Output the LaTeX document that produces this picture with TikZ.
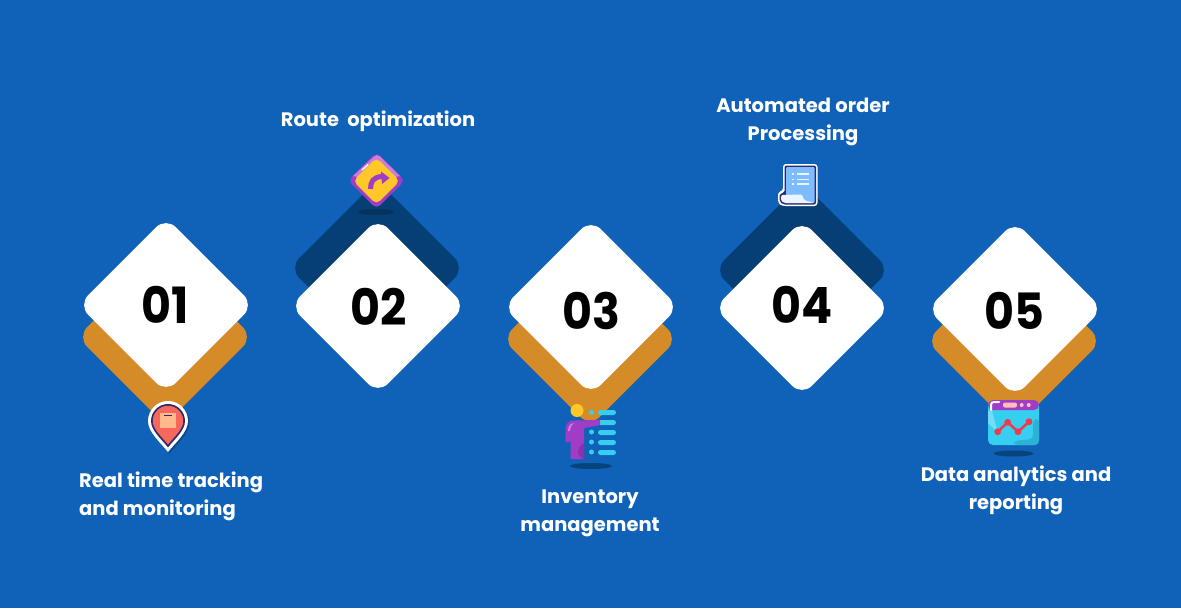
\documentclass[tikz,border=0pt]{standalone}
\usepackage{fontspec}
\setmainfont{Poppins}
\definecolor{bgblue}{HTML}{0F62B7}
\definecolor{ochre}{HTML}{D58C28}
\definecolor{deepblue}{HTML}{063F75}
\definecolor{iconpurple}{HTML}{A03CC6}
\definecolor{iconlilac}{HTML}{C77FDC}
\definecolor{iconyellow}{HTML}{FFC727}
\definecolor{iconcyan}{HTML}{36CFF0}
\definecolor{iconcyandark}{HTML}{2BB2D4}
\definecolor{iconred}{HTML}{F2384E}
\definecolor{pinred}{HTML}{F7675B}
\definecolor{pinbox}{HTML}{FFB98A}
\definecolor{navy}{HTML}{2B2A6B}
\definecolor{paperblue}{HTML}{7DBDFF}
\tikzset{
  x=1pt,y=-1pt,
  diamondbase/.style={rectangle,rotate=45,rounded corners=14pt,minimum size=124pt,inner sep=0pt,draw=none},
  whitediamond/.style={diamondbase,fill=white},
  ochrediamond/.style={diamondbase,fill=ochre},
  deepdiamond/.style={diamondbase,fill=deepblue},
  numeral/.style={font=\fontsize{50}{50}\selectfont\bfseries,text=black,inner sep=0pt,xscale=.92},
  caption/.style={font=\fontsize{19.5}{28}\selectfont\bfseries,text=white,inner sep=0pt,align=center},
  bar/.style={fill=iconcyan,draw=none,rounded corners=2.5pt},
}
\newcommand{\pinshape}{(0,-20) .. controls (11,-20) and (20,-11) .. (20,0) .. controls (20,11) and (8,21) .. (0,31) .. controls (-8,21) and (-20,11) .. (-20,0) .. controls (-20,-11) and (-11,-20) .. (0,-20) -- cycle}
\begin{document}
\begin{tikzpicture}
\useasboundingbox[fill=bgblue] (0,0) rectangle (1181,608);
% back diamonds
\node[ochrediamond] (b1) at (165,337) {};
\node[deepdiamond]  (b2) at (377,268) {};
\node[ochrediamond] (b3) at (590,339) {};
\node[deepdiamond]  (b4) at (802,270) {};
\node[ochrediamond] (b5) at (1014,341) {};
% front diamonds
\node[whitediamond] (d1) at (166,305) {};
\node[whitediamond] (d2) at (378,306) {};
\node[whitediamond] (d3) at (591,307) {};
\node[whitediamond] (d4) at (802,308) {};
\node[whitediamond] (d5) at (1015,309) {};
% numbers
\node[numeral] (n1) at (165.5,305) {01};
\node[numeral] (n2) at (378.5,307) {02};
\node[numeral] (n3) at (591,311) {03};
\node[numeral] (n4) at (802,305) {04};
\node[numeral] (n5) at (1014,311) {05};
% captions
\node[caption,align=left,anchor=west] (t1) at (79,496.5) {Real time tracking\\and monitoring};
\node[caption] (t2) at (378,121.5) {Route\ \ optimization};
\node[caption] (t3) at (590,513.5) {Inventory\\management};
\node[caption] (t4) at (803,122) {Automated order\\Processing};
\node[caption] (t5) at (1016,490.5) {Data analytics and\\reporting};
% pin icon
\begin{scope}[shift={(168,421)}]
  \fill[black,opacity=.25,shift={(1.5,1.5)}] \pinshape;
  \fill[white] \pinshape;
  \begin{scope}[scale=.85]\fill[navy] \pinshape;\end{scope}
  \begin{scope}[scale=.76]\fill[pinred] \pinshape;\end{scope}
  \fill[pinbox] (-8,-8) rectangle (8,7);
  \fill[navy] (-4,-6) rectangle (4,-5);
\end{scope}
% road sign icon
\fill[deepblue!80!black] (376,212) ellipse [x radius=18,y radius=3];
\node[rectangle,rotate=45,fill=iconpurple,rounded corners=5pt,minimum size=40pt,inner sep=0pt] (signouter) at (376.5,180.5) {};
\fill[iconlilac] (353,176) -- (374,156.5) .. controls (376,154.6) and (378,154.6) .. (380,156.5) -- (400,176) -- (395,177) -- (377,160) -- (358,177) -- cycle;
\node[rectangle,rotate=45,fill=iconyellow,rounded corners=5pt,minimum size=33pt,inner sep=0pt] (signinner) at (376.5,181) {};
\draw[white,line width=1.2pt,line cap=round] (362,170) -- (368,164.5);
\draw[iconpurple,line width=5pt] (370.5,189) .. controls (370.5,182) and (373,177) .. (382,176.5);
\fill[iconpurple] (381,171.5) -- (389.5,178) -- (382,184) -- cycle;
% person and list icon
\fill[deepblue!90!bgblue] (591,466) ellipse [x radius=21,y radius=3];
\fill[iconyellow] (577,410.5) circle [radius=6.5];
\fill[iconcyan] (591.5,412.5) circle [radius=2.5];
\fill[iconcyan] (591.5,432) circle [radius=2.5];
\fill[iconcyan] (591.5,442) circle [radius=2.5];
\fill[iconcyan] (591.5,452) circle [radius=2.5];
\fill[bar] (598,410) rectangle (616,415);
\fill[bar] (598,420) rectangle (616,425);
\fill[bar] (598,430) rectangle (616,435);
\fill[bar] (598,440) rectangle (616,445);
\fill[bar] (598,450) rectangle (616,455);
\fill[iconpurple] (565.5,442) -- (565.5,430) .. controls (565.5,423) and (569,420) .. (575,420.5) -- (600,420) -- (600,425) -- (584,428) -- (584,459) -- (570.5,459) -- (570.5,442) -- cycle;
\fill[iconlilac] (568,431) .. controls (568,426) and (570,423.5) .. (574,423) .. controls (571.5,425) and (570.5,427) .. (570,431) -- cycle;
\fill[iconpurple!85!black] (584,443) .. controls (580,445) and (578,449) .. (578,452) .. controls (578,456) and (581,458) .. (584,459) -- cycle;
% paper icon
\fill[white,rounded corners=3pt] (783,164) -- (817.5,164) -- (817.5,206) -- (782,206) -- (778,203) -- (778,192) -- (783,191) -- cycle;
\fill[navy,rounded corners=2pt] (784.5,165.5) -- (816,165.5) -- (816,204.5) -- (783,204.5) -- (779.5,201.5) -- (779.5,193.5) -- (784.5,193) -- cycle;
\fill[paperblue,rounded corners=1pt] (786,167) -- (814.5,167) -- (814.5,203) -- (786,203) -- cycle;
\fill[white!85!paperblue,rounded corners=1.5pt] (781,195) -- (802,194.5) -- (804,200) -- (814,203) -- (784,203) -- (781,200.5) -- cycle;
\foreach \ly in {174,179.5,184}{\fill[white!85!paperblue] (797,\ly-.7) rectangle (809,\ly+.7);\fill[white!85!paperblue] (792,\ly-.7) rectangle (793.5,\ly+.7);}
% chart window icon
\fill[deepblue!90!bgblue] (1013.5,453.5) ellipse [x radius=20,y radius=3];
\fill[iconcyan,rounded corners=5pt] (988,400) rectangle (1039,445);
\fill[iconcyandark,rounded corners=4pt] (1014,445) -- (1014,441) -- (1033,439) -- (1033,420) -- (1039,418) -- (1039,445) -- cycle;
\fill[iconpurple,rounded corners=5pt] (988,410) -- (988,400) -- (1039,400) -- (1039,410) -- cycle;
\fill[iconcyan!70!white] (988,411) -- (992,411) -- (998,433) -- (988,423) -- cycle;
\draw[white,line width=2pt,line cap=round] (991,410) -- (991,405) .. controls (991,403) and (992,402) .. (994,402) -- (999,402);
\fill[pink!90!red!80!white,rounded corners=2pt] (1003,402.5) rectangle (1017,407.5);
\fill[pink!90!red!80!white] (1021.7,405) circle [radius=2];
\fill[pink!90!red!80!white] (1028.7,405) circle [radius=2];
\draw[iconred,line width=2.5pt] (997.7,431.7) -- (1007.7,422.3) -- (1018,431.7) -- (1029,421.7);
\fill[iconred] (997.7,431.7) circle [radius=3.4];
\fill[iconred] (1007.7,422.3) circle [radius=3.4];
\fill[iconred] (1018,431.7) circle [radius=3.4];
\fill[iconred] (1029,421.7) circle [radius=3.4];
\end{tikzpicture}
\end{document}
